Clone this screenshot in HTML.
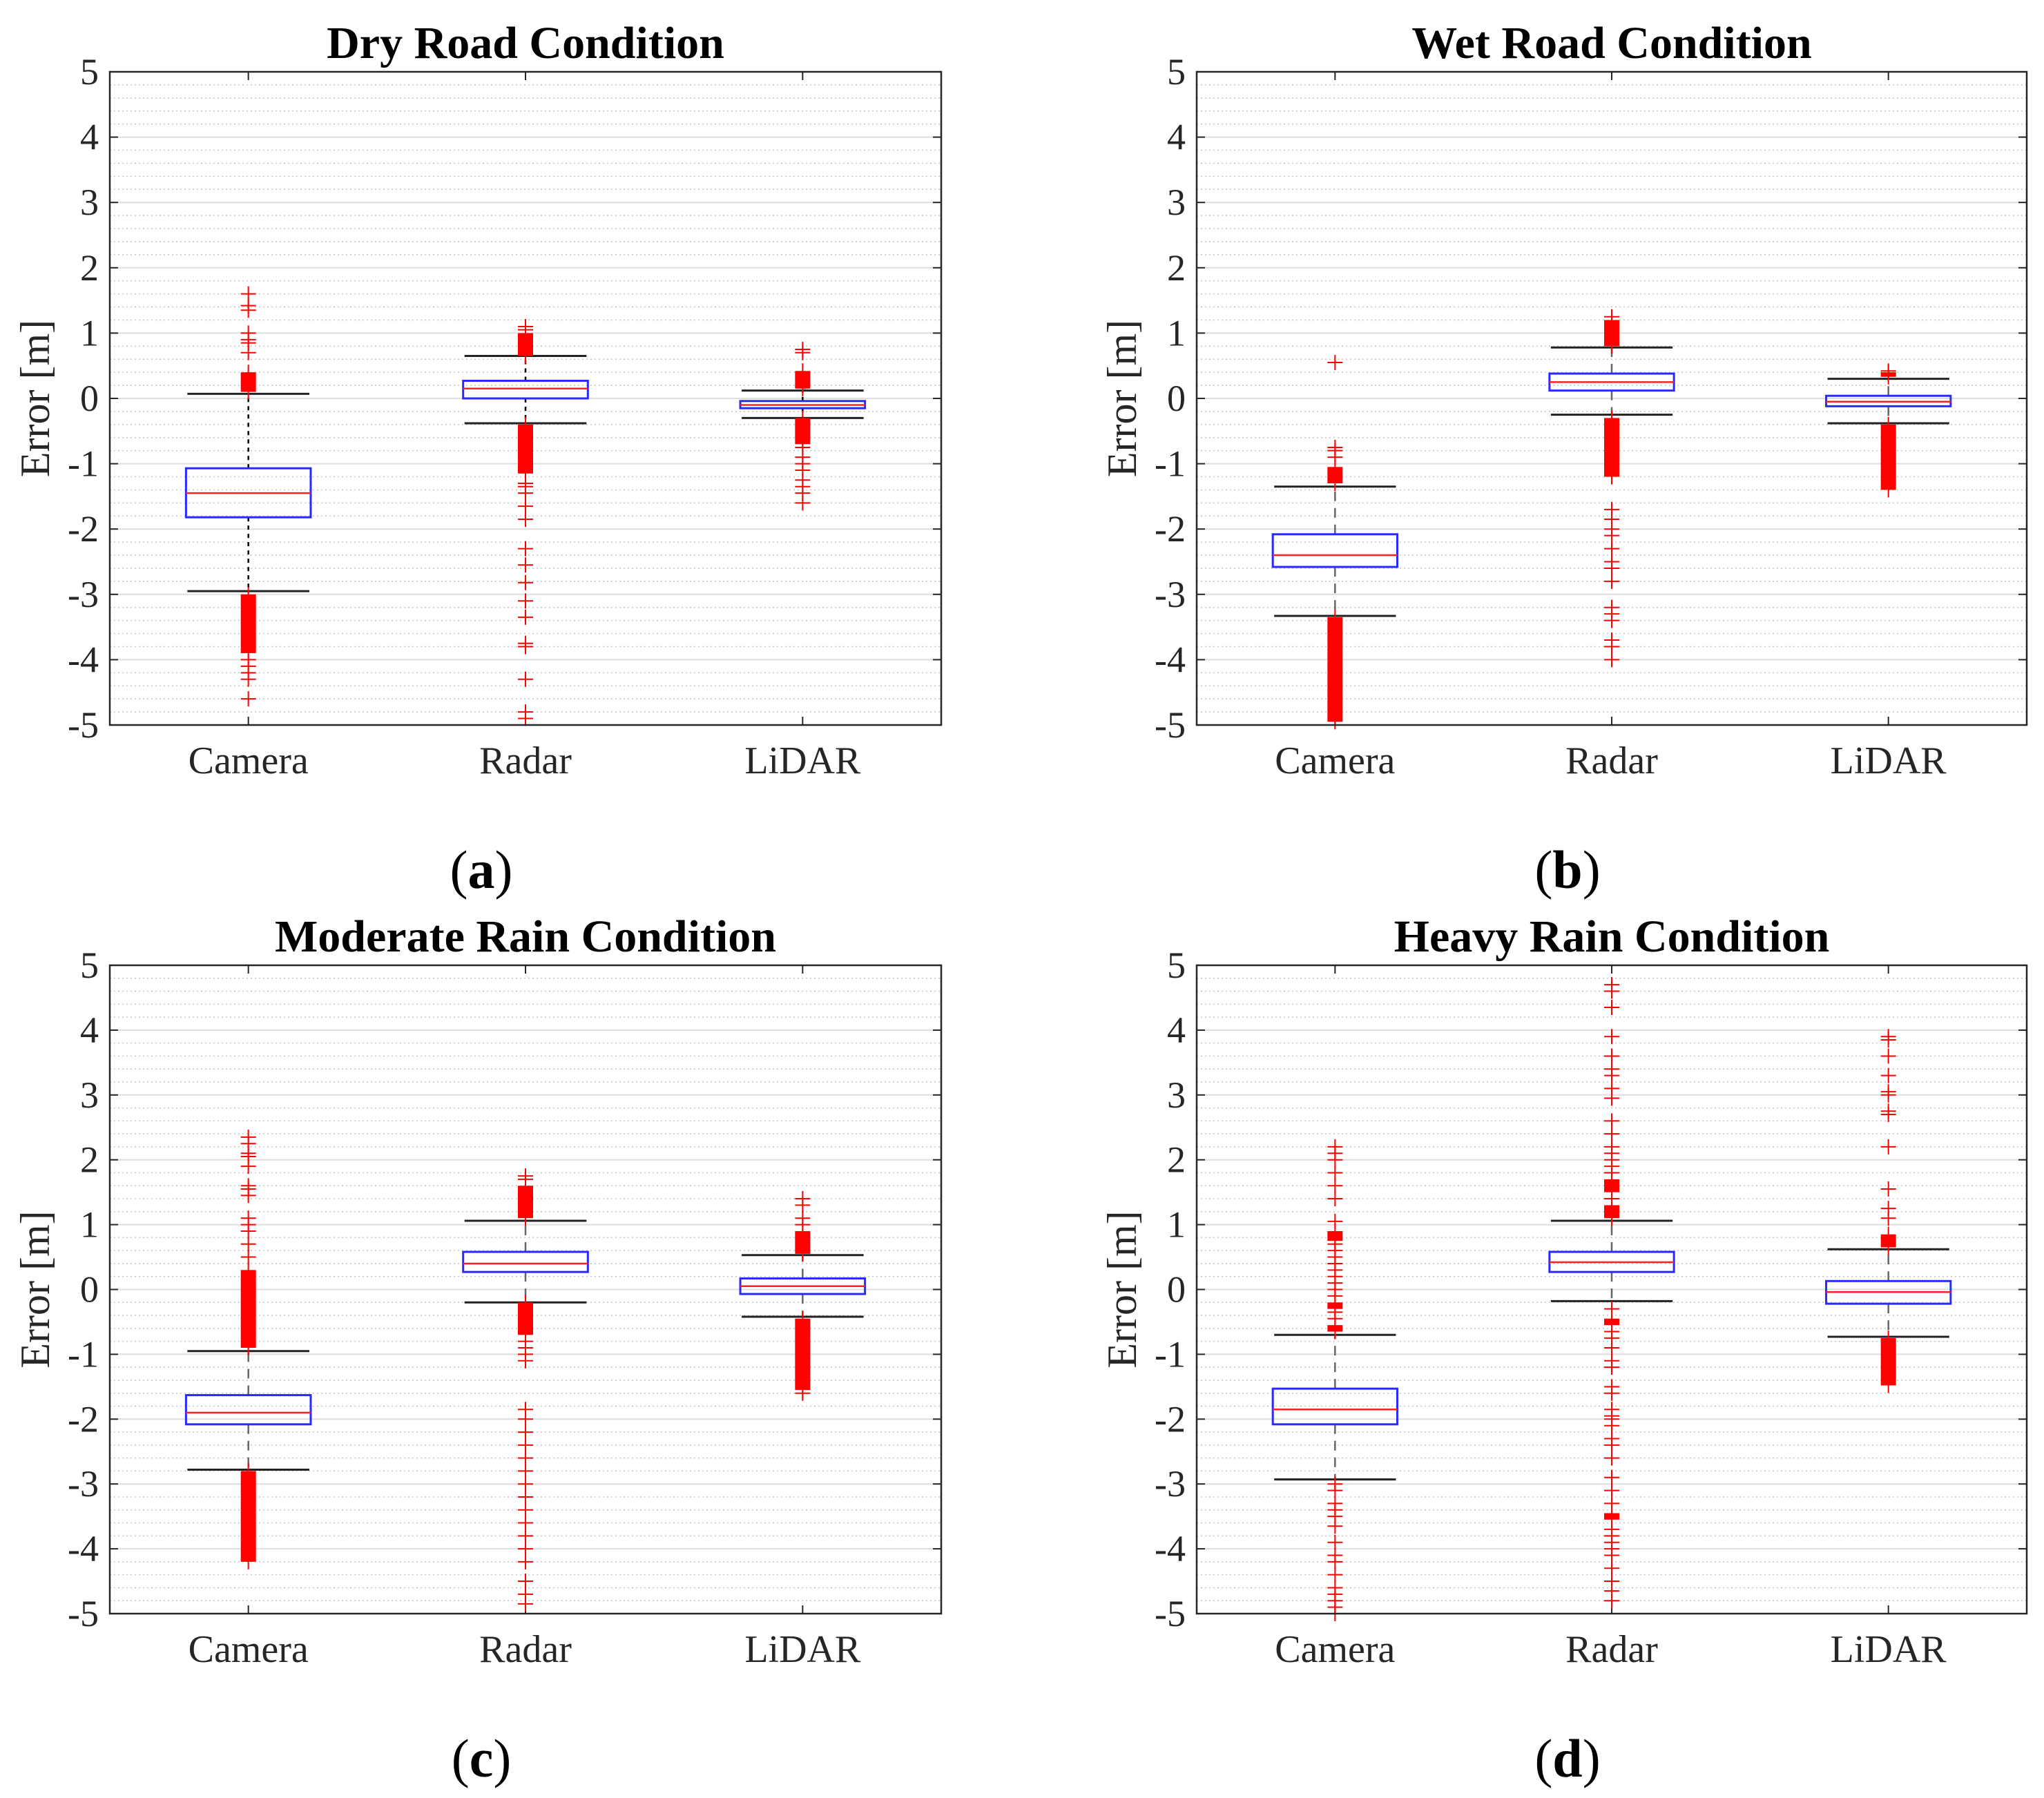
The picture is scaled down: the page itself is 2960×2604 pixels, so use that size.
<!DOCTYPE html>
<html><head><meta charset="utf-8"><style>
html,body{margin:0;padding:0;background:#fff;}
svg{display:block;}
text{font-family:"Liberation Serif","Times New Roman",serif;}
</style></head><body>
<svg id="fig" width="2960" height="2604" viewBox="0 0 2960 2604" xmlns="http://www.w3.org/2000/svg"></svg>
<script>
const panelTitles = ['Dry Road Condition','Wet Road Condition','Moderate Rain Condition','Heavy Rain Condition'];
const panelLetters = ['(a)','(b)','(c)','(d)'];
const categories = ['Camera','Radar','LiDAR'];
const yTicks = [5,4,3,2,1,0,-1,-2,-3,-4,-5];
const q1s = [[-1.82,0.0,-0.15],[-2.58,0.12,-0.12],[-2.08,0.27,-0.07],[-2.08,0.27,-0.22]];
const q3s = [[-1.07,0.27,-0.04],[-2.08,0.38,0.04],[-1.63,0.58,0.17],[-1.53,0.58,0.13]];
const medians = [[-1.45,0.15,-0.1],[-2.4,0.25,-0.05],[-1.9,0.4,0.05],[-1.85,0.42,-0.04]];
const whiskerHi = [[0.07,0.65,0.12],[-1.35,0.78,0.3],[-0.95,1.06,0.53],[-0.7,1.06,0.62]];
const whiskerLo = [[-2.95,-0.38,-0.3],[-3.33,-0.25,-0.38],[-2.78,-0.2,-0.42],[-2.93,-0.18,-0.73]];
// dense outlier runs [lo, hi]
const denseRuns = [
 [[[-3.9,-3.0],[0.1,0.4]],[[0.65,1.0],[-1.15,-0.4]],[[-0.7,-0.3],[0.15,0.42]]],
 [[[-4.95,-3.35],[-1.3,-1.05]],[[0.8,1.2],[-1.2,-0.3]],[[-1.4,-0.4],[0.33,0.4]]],
 [[[-4.2,-2.8],[-0.9,0.3]],[[1.1,1.6],[-0.7,-0.2]],[[-1.55,-0.45],[0.55,0.9]]],
 [[[-0.65,-0.55],[-0.3,-0.2],[0.75,0.9]],[[1.1,1.3],[1.5,1.7],[-0.55,-0.45],[-3.55,-3.45]],[[-1.48,-0.75],[0.65,0.85]]]
];
const outliers = [
 [[0.7,0.85,0.9,1.0,1.35,1.42,1.6,-4.0,-4.1,-4.2,-4.3,-4.6],[1.05,1.1,-1.3,-1.35,-1.45,-1.65,-1.85,-2.3,-2.55,-2.82,-3.1,-3.35,-3.75,-3.8,-4.3,-4.8,-4.9],[0.7,0.75,-0.75,-0.9,-1.0,-1.1,-1.25,-1.35,-1.45,-1.6]],
 [[0.55,-0.75,-0.8,-0.9],[1.25,-1.7,-1.85,-2.0,-2.1,-2.3,-2.5,-2.6,-2.8,-3.2,-3.3,-3.4,-3.7,-3.8,-4.0],[0.42]],
 [[0.5,0.7,0.9,1.0,1.1,1.45,1.55,1.6,1.9,2.05,2.1,2.25,2.35],[1.7,1.75,-0.8,-0.9,-1.0,-1.1,-1.85,-2.0,-2.2,-2.4,-2.6,-2.8,-3.0,-3.2,-3.4,-3.6,-3.8,-4.0,-4.2,-4.5,-4.7,-4.85],[1.0,1.1,1.3,1.4,-1.6]],
 [[-0.45,-0.35,-0.1,0.0,0.1,0.2,0.3,0.4,0.5,0.6,0.7,1.05,1.4,1.6,1.8,2.0,2.1,2.2,-3.0,-3.1,-3.3,-3.4,-3.5,-3.65,-3.9,-4.1,-4.2,-4.4,-4.6,-4.7,-4.8,-4.9,-5.0],[1.4,1.8,1.9,2.0,2.1,2.2,2.4,2.6,2.95,3.1,3.3,3.4,3.6,3.9,4.35,4.6,4.7,-0.3,-0.65,-0.75,-0.9,-1.1,-1.2,-1.5,-1.6,-1.85,-1.95,-2.0,-2.1,-2.3,-2.4,-2.6,-2.9,-3.1,-3.3,-3.7,-3.8,-3.9,-4.0,-4.1,-4.3,-4.5,-4.65,-4.8],[1.1,1.25,1.55,2.2,2.7,2.75,3.0,3.05,3.3,3.6,3.85,3.9]]
];
const whiskerDash = ['6,6','14,10','14,10','14,10'];
const whiskerColor = ['#000','#666','#666','#666'];

const NS='http://www.w3.org/2000/svg';
const svg=document.getElementById('fig');
const geo=[{L:159,R:1363,T:104,B:1050},{L:1733,R:2935,T:104,B:1050},{L:159,R:1363,T:1398,B:2337},{L:1733,R:2935,T:1398,B:2337}];
function mk(tag,attrs,parent){const e=document.createElementNS(NS,tag);for(const k in attrs)e.setAttribute(k,attrs[k]);(parent||svg).appendChild(e);return e;}

geo.forEach((g,p)=>{
  const grp=mk('g',{});
  
  
  const H=g.B-g.T, W=g.R-g.L;
  const y=v=>g.T+(5-v)/10*H;
  const step=W/3;
  const x=i=>g.L+step*(i+0.5);
  for(let k=-50;k<=50;k+=2){ if(k%10===0)continue;
    const l=mk('line',{x1:g.L,x2:g.R,y1:y(k/10),y2:y(k/10),stroke:'#c4c4c4','stroke-width':1.5,'stroke-dasharray':'2,4'},grp);
    
    
  }
  yTicks.forEach(t=>{
    const l=mk('line',{x1:g.L,x2:g.R,y1:y(t),y2:y(t),stroke:'#dedede','stroke-width':2},grp);
    
    
    mk('line',{x1:g.L,x2:g.L+12,y1:y(t),y2:y(t),stroke:'#262626','stroke-width':2},grp);
    mk('line',{x1:g.R-12,x2:g.R,y1:y(t),y2:y(t),stroke:'#262626','stroke-width':2},grp);
    const tx=mk('text',{x:g.L-16,y:y(t)+18,'text-anchor':'end','font-size':54,fill:'#262626'},grp);
    tx.textContent=String(t);
    
    
  });
  categories.forEach((c,i)=>{
    mk('line',{x1:x(i),x2:x(i),y1:g.T,y2:g.T+12,stroke:'#262626','stroke-width':2},grp);
    mk('line',{x1:x(i),x2:x(i),y1:g.B-12,y2:g.B,stroke:'#262626','stroke-width':2},grp);
    const tx=mk('text',{x:x(i),y:g.B+70,'text-anchor':'middle','font-size':56,fill:'#262626'},grp);
    tx.textContent=c;
    
    
    const bw=step*0.45, cw=step*0.22;
    const wc=whiskerColor[p];
    const w1=mk('line',{x1:x(i),x2:x(i),y1:y(q3s[p][i]),y2:y(whiskerHi[p][i]),stroke:wc,'stroke-width':2.5,'stroke-dasharray':whiskerDash[p]},grp);
    
    
    const w2=mk('line',{x1:x(i),x2:x(i),y1:y(q1s[p][i]),y2:y(whiskerLo[p][i]),stroke:wc,'stroke-width':2.5,'stroke-dasharray':whiskerDash[p]},grp);
    
    
    [whiskerHi[p][i],whiskerLo[p][i]].forEach(v=>{
      const cp=mk('line',{x1:x(i)-cw,x2:x(i)+cw,y1:y(v),y2:y(v),stroke:'#222','stroke-width':3},grp);
      
      
    });
    const bx=mk('rect',{x:x(i)-bw/2,y:y(q3s[p][i]),width:bw,height:y(q1s[p][i])-y(q3s[p][i]),fill:'none',stroke:'#2a2aff','stroke-width':3},grp);
    
    
    const md=mk('line',{x1:x(i)-bw/2,x2:x(i)+bw/2,y1:y(medians[p][i]),y2:y(medians[p][i]),stroke:'#ff2020','stroke-width':2.5},grp);
    
    
    denseRuns[p][i].forEach(r=>{
      const rr=mk('rect',{x:x(i)-11,y:y(r[1]),width:22,height:y(r[0])-y(r[1]),fill:'#ff0000'},grp);
      
      
      mk('line',{x1:x(i),x2:x(i),y1:y(r[1])-11,y2:y(r[0])+11,stroke:'#ff0000','stroke-width':2},grp);
    });
    outliers[p][i].forEach(v=>{
      const o=mk('path',{d:`M${x(i)-11} ${y(v)}h22M${x(i)} ${y(v)-11}v22`,stroke:'#ff0000','stroke-width':2,fill:'none'},grp);
      
      
    });
  });
  const frame=mk('rect',{x:g.L,y:g.T,width:W,height:H,fill:'none',stroke:'#262626','stroke-width':2.5},grp);
  
  
  const ti=mk('text',{x:(g.L+g.R)/2,y:g.T-20,'text-anchor':'middle','font-size':66,'font-weight':'bold',fill:'#000'},grp);
  ti.textContent=panelTitles[p];
  
  
  const yl=mk('text',{x:0,y:0,'text-anchor':'middle','font-size':60,fill:'#262626',transform:`translate(${g.L-88},${(g.T+g.B)/2}) rotate(-90)`},grp);
  yl.textContent='Error [m]';
  
  
  const lt=mk('text',{x:(g.L+g.R)/2-64,y:g.B+236,'text-anchor':'middle','font-size':78,fill:'#000'},grp);
  lt.innerHTML='(<tspan font-weight="bold">'+panelLetters[p].slice(1,-1)+'</tspan>)';
  
  
});
</script>
</body></html>
